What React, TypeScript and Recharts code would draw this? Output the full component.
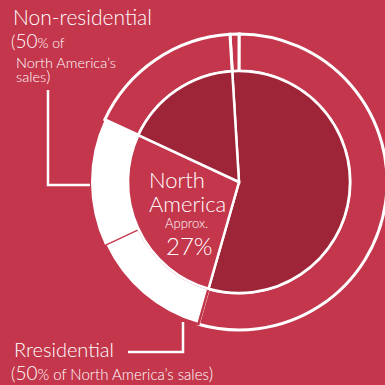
import { PieChart, Pie, Cell } from "recharts";

// inner pie, clockwise from just left of 12 o'clock
const innerNames = ["Other regions", "North America", "Other regions 2"];
const innerValues = [55.4, 27.5, 17.1];

// outer ring, same start angle
const outerNames = ["Sliver", "Other", "Residential", "Non-residential", "Other 2"];
const outerValues = [1.0, 54.4, 13.6, 13.9, 17.1];

const BG = "#C4364B";
const DARK = "#9E2538";
const FONT = "Lato, 'Open Sans', sans-serif";

const innerData = innerNames.map((name, i) => ({ name, value: innerValues[i] }));
const outerData = outerNames.map((name, i) => ({ name, value: outerValues[i] }));

const innerFill = [DARK, BG, DARK];
const outerFill = [BG, BG, "#FFFFFF", "#FFFFFF", BG];
const outerStroke = ["#FFFFFF", "#FFFFFF", BG, "none", "#FFFFFF"];

export default function App() {
  return (
    <div style={{ position: "absolute", left: 0, top: 0, width: 385, height: 385, background: BG, overflow: "hidden", fontFamily: FONT }}>
      <PieChart width={385} height={385} margin={{ top: 0, right: 0, bottom: 0, left: 0 }}>
        <Pie
          data={outerData}
          dataKey="value"
          cx={239}
          cy={182}
          innerRadius={111}
          outerRadius={148}
          startAngle={93.5}
          endAngle={-266.5}
          stroke="#FFFFFF"
          strokeWidth={3}
          isAnimationActive={false}
        >
          {outerData.map((d, i) => (
            <Cell key={d.name} fill={outerFill[i]} stroke={outerStroke[i]} strokeWidth={i === 2 ? 2.5 : 3} />
          ))}
        </Pie>
        <Pie
          data={innerData}
          dataKey="value"
          cx={239}
          cy={182}
          innerRadius={0}
          outerRadius={111}
          startAngle={93.5}
          endAngle={-266.5}
          stroke="#FFFFFF"
          strokeWidth={2.5}
          isAnimationActive={false}
        >
          {innerData.map((d, i) => (
            <Cell key={d.name} fill={innerFill[i]} />
          ))}
        </Pie>
      </PieChart>
      <svg width={385} height={385} style={{ position: "absolute", left: 0, top: 0 }}>
        {/* leader lines */}
        <polyline points="48,90 48,185 90,185" fill="none" stroke="#fff" strokeWidth={2.5} />
        <polyline points="128,352 183,352 183,322" fill="none" stroke="#fff" strokeWidth={2.5} />

        <g fill="#fff" fontFamily={FONT} fontWeight={300}>
          <text x={13} y={25} fontSize={21}>Non-residential</text>
          <text x={11} y={48}>
            <tspan fontSize={17}>(</tspan>
            <tspan fontSize={19}>50</tspan>
            <tspan fontSize={14}>% of</tspan>
          </text>
          <text x={16} y={68} fontSize={14.5}>North America’s</text>
          <text x={16} y={82} fontSize={14.5}>sales<tspan fontSize={16}>)</tspan></text>

          <text x={14} y={357} fontSize={20}>Rresidential</text>
          <text x={11} y={380}>
            <tspan fontSize={17}>(</tspan>
            <tspan fontSize={19}>50</tspan>
            <tspan fontSize={15}>% of North America’s sales</tspan>
            <tspan fontSize={17}>)</tspan>
          </text>

          <text x={149} y={188} fontSize={22}>North</text>
          <text x={149} y={212} fontSize={22}>America</text>
          <text x={165} y={228} fontSize={13}>Approx.</text>
          <text x={166} y={255} fontSize={24}>27%</text>
        </g>
      </svg>
    </div>
  );
}
